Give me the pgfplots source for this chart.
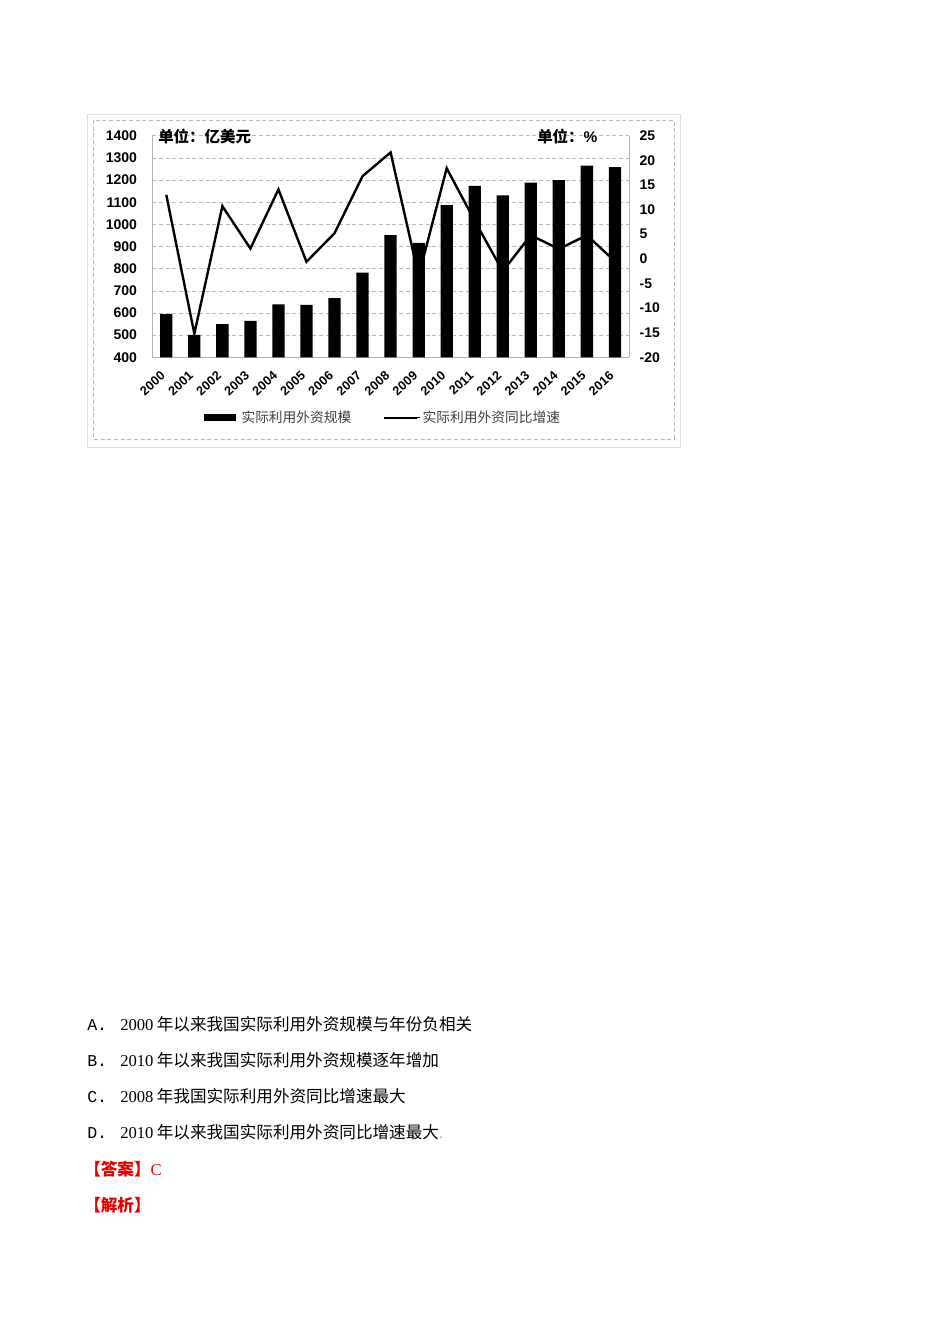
\documentclass[border=0pt]{standalone}
\usepackage{fontspec}
\setmainfont{Liberation Serif}
\newfontfamily\cjk{Noto Sans CJK SC}
\newfontfamily\lsans{Liberation Sans}
\newfontfamily\lmono{Liberation Mono}
\usepackage{pgfplots}
\pgfplotsset{compat=1.18}
\definecolor{ansred}{RGB}{230,0,0}
\definecolor{dotyel}{RGB}{205,185,70}

% 1px of the page = 0.75pt
\newcommand{\qfont}{\fontsize{12.45pt}{14pt}\selectfont}
\newcommand{\tickfont}{\fontsize{10.5pt}{12pt}\selectfont\lsans\bfseries}

\begin{document}
\begin{tikzpicture}
\useasboundingbox (0,0) rectangle (712.5pt,-1008pt);
\fill[white] (0,0) rectangle (712.5pt,-1008pt);

\begin{scope}[x=0.75pt,y=-0.75pt]
  \draw[gray!25, line width=0.5pt] (87,114) rectangle (680,447);
  \draw[gray!55, line width=0.4pt, densely dashed] (93,120) rectangle (674,439);
\end{scope}

% bars, left axis
\begin{axis}[
  at={(114.2pt,-268pt)}, anchor=south west,
  scale only axis, width=357.5pt, height=166.2pt,
  xmin=-0.5, xmax=16.5, ymin=400, ymax=1400,
  axis x line*=bottom, axis y line*=left,
  axis line style={gray!60, line width=0.5pt, -},
  xtick={0,...,16},
  xticklabels={2000,2001,2002,2003,2004,2005,2006,2007,2008,2009,2010,2011,2012,2013,2014,2015,2016},
  ytick={400,500,...,1400},
  yticklabels={400,500,600,700,800,900,1000,1100,1200,1300,1400},
  major tick length=0pt,
  ymajorgrids, grid style={densely dashed, gray!55, line width=0.4pt},
  xticklabel style={font=\fontsize{9.5pt}{11pt}\selectfont\lsans\bfseries, xshift=-2.3pt, yshift=-12.3pt, rotate=42, anchor=east, inner sep=0pt},
  yticklabel style={font=\tickfont, anchor=east, inner sep=0pt, xshift=-11.3pt},
  legend columns=2,
  legend style={at={(0.485,-0.272)}, anchor=center, draw=none, fill=none,
    font=\fontsize{10.3pt}{12pt}\selectfont\cjk\color{black!75}},
]
\addplot[ybar, bar width=9.2pt, fill=black, draw=none,
  legend image code/.code={\fill[black] (0pt,-2.4pt) rectangle (24.2pt,2.4pt); \path (0pt,0pt) -- (26pt,0pt);}]
  coordinates {(0,595) (1,501) (2,550) (3,564) (4,639) (5,637) (6,667) (7,782) (8,952)
    (9,917) (10,1087) (11,1174) (12,1131) (13,1188) (14,1200) (15,1265) (16,1258)};
\addlegendentry{实际利用外资规模\rule{22pt}{0pt}}
\addlegendimage{legend image code/.code={\draw[black, line width=1.6pt] (0pt,0pt) -- (24.5pt,0pt); \path (0pt,0pt) -- (26.5pt,0pt);}}
\addlegendentry{实际利用外资同比增速}
\end{axis}

% growth line, right axis
\begin{axis}[
  at={(114.2pt,-268pt)}, anchor=south west,
  scale only axis, width=357.5pt, height=166.2pt,
  xmin=-0.5, xmax=16.5, ymin=-20, ymax=25,
  axis x line=none, axis y line*=right,
  axis line style={gray!60, line width=0.5pt, -},
  ytick={-20,-15,...,25},
  yticklabels={-20,-15,-10,-5,0,5,10,15,20,25},
  major tick length=0pt,
  yticklabel style={font=\tickfont, anchor=west, inner sep=0pt, xshift=7.8pt},
]
\addplot[black, line width=1.8pt, line join=miter]
  coordinates {(0,13.0) (1,-15.2) (2,10.7) (3,2.1) (4,14.1) (5,-0.6) (6,5.2) (7,16.8) (8,21.6)
    (9,-3.5) (10,18.4) (11,7.7) (12,-2.5) (13,4.8) (14,2.0) (15,4.8) (16,-0.5)};
\end{axis}

\begin{scope}[x=0.75pt,y=-0.75pt]
  \node[anchor=west, inner sep=0pt, font=\fontsize{11.6pt}{13pt}\selectfont\cjk\bfseries] at (158,136) {单位：亿美元};
  \node[anchor=west, inner sep=0pt, font=\fontsize{11.6pt}{13pt}\selectfont\cjk\bfseries] at (537,136) {单位：\lsans\%};

  \node[anchor=base west, inner sep=0pt, font=\qfont\lmono] at (87,1030) {A.};
  \node[anchor=base west, inner sep=0pt, font=\qfont] at (120,1030) {2000\hspace{2.5pt}{\cjk 年以来我国实际利用外资规模与年份负相关}};
  \node[anchor=base west, inner sep=0pt, font=\qfont\lmono] at (87,1066) {B.};
  \node[anchor=base west, inner sep=0pt, font=\qfont] at (120,1066) {2010\hspace{2.5pt}{\cjk 年以来我国实际利用外资规模逐年增加}};
  \node[anchor=base west, inner sep=0pt, font=\qfont\lmono] at (87,1102) {C.};
  \node[anchor=base west, inner sep=0pt, font=\qfont] at (120,1102) {2008\hspace{2.5pt}{\cjk 年我国实际利用外资同比增速最大}};
  \node[anchor=base west, inner sep=0pt, font=\qfont\lmono] at (87,1138) {D.};
  \node[anchor=base west, inner sep=0pt, font=\qfont] at (120,1138) {2010\hspace{2.5pt}{\cjk 年以来我国实际利用外资同比增速最大}{\color{dotyel}.}};
  \node[anchor=base west, inner sep=0pt, font=\qfont, text=ansred] at (84,1175) {{\cjk\bfseries 【答案】}C};
  \node[anchor=base west, inner sep=0pt, font=\qfont, text=ansred] at (84,1211) {{\cjk\bfseries 【解析】}};
\end{scope}
\end{tikzpicture}
\end{document}
